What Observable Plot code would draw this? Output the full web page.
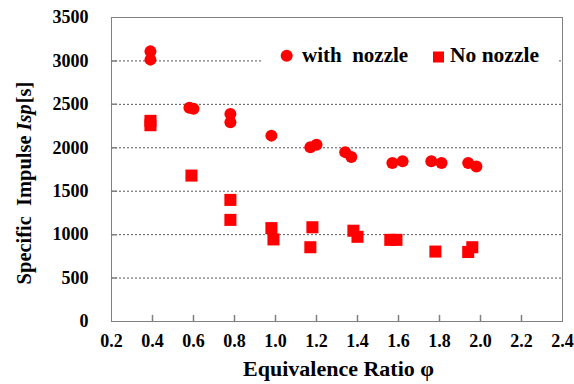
<!DOCTYPE html>
<html>
<head>
<meta charset="utf-8">
<script src="https://cdn.jsdelivr.net/npm/d3@7"></script>
<script src="https://cdn.jsdelivr.net/npm/@observablehq/plot@0.6"></script>
<style>
  html, body { margin: 0; padding: 0; background: #fff; }
  #chart svg { display: block; }
</style>
</head>
<body>
<div id="chart"></div>
<script>
// ---- data ----
const withNozzleX = [0.39, 0.39, 0.58, 0.60, 0.78, 0.78, 0.98, 1.17, 1.20, 1.34, 1.37, 1.57, 1.62, 1.76, 1.81, 1.94, 1.98];
const withNozzleY = [3110, 3015, 2460, 2450, 2390, 2295, 2140, 2005, 2035, 1950, 1895, 1825, 1845, 1845, 1825, 1825, 1785];
const noNozzleX = [0.39, 0.39, 0.59, 0.78, 0.78, 0.98, 0.99, 1.18, 1.17, 1.38, 1.40, 1.56, 1.59, 1.78, 1.94, 1.96];
const noNozzleY = [2310, 2260, 1680, 1400, 1170, 1075, 945, 1085, 855, 1045, 975, 940, 940, 805, 800, 855];
const xTicks = [0.2, 0.4, 0.6, 0.8, 1.0, 1.2, 1.4, 1.6, 1.8, 2.0, 2.2, 2.4];
const yTicks = [0, 500, 1000, 1500, 2000, 2500, 3000, 3500];
const seriesNames = ["with\u00a0 nozzle", "No nozzle"];
const xTitle = "Equivalence Ratio \u03c6";
const yTitleParts = ["Specific", "Impulse", "Isp", "[s]"];

const withNozzle = withNozzleX.map((x, i) => ({x, y: withNozzleY[i]}));
const noNozzle = noNozzleX.map((x, i) => ({x, y: noNozzleY[i]}));

const red = "#ff0000";
const gray = "#808080";
const font = "'Liberation Serif', 'Times New Roman', serif";

const tickShape = {draw(context, l) { context.moveTo(0, 0); context.lineTo(0, -l); }};

const plot = Plot.plot({
  width: 574,
  height: 384,
  marginLeft: 111,
  marginRight: 12,
  marginTop: 17,
  marginBottom: 63,
  x: {domain: [0.2, 2.4]},
  y: {domain: [0, 3500]},
  style: {fontFamily: font, fontWeight: "bold", fontSize: "18px", color: "#000", background: "#fff"},
  marks: [
    Plot.gridY(yTicks.slice(1, -1), {stroke: "#555", strokeOpacity: 1, strokeDasharray: "2,2"}),
    Plot.frame({stroke: gray}),
    Plot.axisX(xTicks, {tickSize: 0, tickPadding: 13, tickFormat: d => d.toFixed(1), label: null, fontSize: 18, fontWeight: "bold", fontFamily: font}),
    Plot.axisY(yTicks, {tickSize: 0, tickPadding: 23, tickFormat: d => String(d), label: null, fontSize: 18, fontWeight: "bold", fontFamily: font}),
    Plot.vector(xTicks.slice(1, -1), {x: d => d, frameAnchor: "bottom", anchor: "start", length: 6, rotate: 0, stroke: gray, shape: tickShape}),
    Plot.vector(yTicks.slice(1, -1), {y: d => d, frameAnchor: "left", anchor: "start", length: 5, rotate: 90, stroke: gray, shape: tickShape}),
    Plot.dot(noNozzle, {x: "x", y: "y", symbol: "square", r: 6.8, fill: red, stroke: "none"}),
    Plot.dot(withNozzle, {x: "x", y: "y", r: 6, fill: red, stroke: "none"})
  ]
});

document.getElementById("chart").appendChild(plot);

const svg = d3.select(plot);
const sx = plot.scale("x"), sy = plot.scale("y");
const cx = (sx.range[0] + sx.range[1]) / 2;
const cy = (sy.range[0] + sy.range[1]) / 2;

// x title
svg.append("text")
  .attr("x", cx + 2).attr("y", 376)
  .attr("text-anchor", "middle")
  .style("font-family", font).style("font-weight", "bold").style("font-size", "22px")
  .attr("fill", "#000")
  .text(xTitle);

// y title
const yt = svg.append("text")
  .attr("transform", `translate(31,${cy + 14}) rotate(-90)`)
  .attr("text-anchor", "middle")
  .style("font-family", font).style("font-weight", "bold").style("font-size", "20.5px")
  .attr("fill", "#000");
yt.append("tspan").text(yTitleParts[0]);
yt.append("tspan").attr("dx", 10).text(yTitleParts[1]);
yt.append("tspan").attr("dx", 5).style("font-style", "italic").text(yTitleParts[2]);
yt.append("tspan").attr("dx", 1).text(yTitleParts[3]);

// legend
const lg = svg.append("g").attr("text-anchor", "start");
lg.append("rect").attr("x", 262).attr("y", 40).attr("width", 295).attr("height", 32).attr("fill", "#fff");
lg.append("circle").attr("cx", 286.7).attr("cy", 55.7).attr("r", 6).attr("fill", red);
lg.append("text").attr("x", 302).attr("y", 62).attr("text-anchor", "start")
  .style("font-family", font).style("font-weight", "bold").style("font-size", "21px")
  .attr("fill", "#000").text(seriesNames[0]);
lg.append("rect").attr("x", 433).attr("y", 51.5).attr("width", 11).attr("height", 11).attr("fill", red);
lg.append("text").attr("x", 450).attr("y", 62).attr("text-anchor", "start")
  .style("font-family", font).style("font-weight", "bold").style("font-size", "21.5px")
  .attr("fill", "#000").text(seriesNames[1]);
</script>
</body>
</html>
